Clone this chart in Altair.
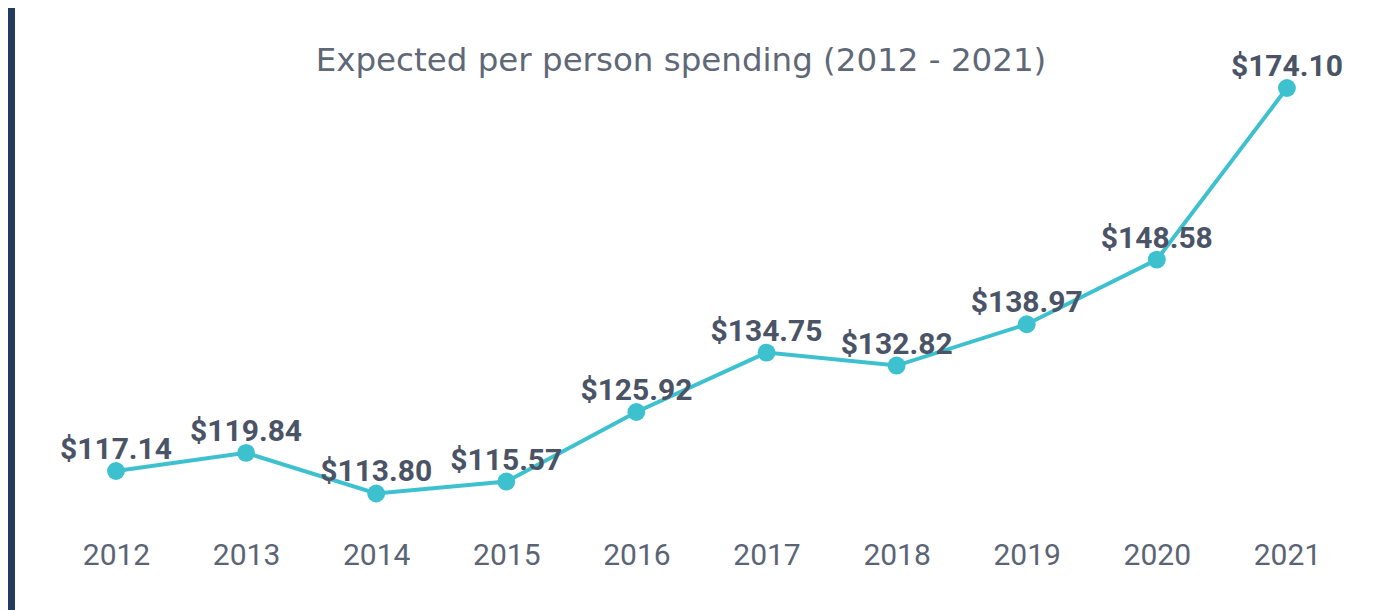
import altair as alt
import pandas as pd

years = [2012, 2013, 2014, 2015, 2016, 2017, 2018, 2019, 2020, 2021]
spending = [117.14, 119.84, 113.80, 115.57, 125.92, 134.75, 132.82, 138.97, 148.58, 174.10]
title_text = "Expected per person spending (2012 - 2021)"

W, H = 1370, 520
TOTAL_H = 602

df = pd.DataFrame({"year": years, "value": spending})
one = pd.DataFrame({"a": [0]})

x_enc = alt.X("year:Q",
              scale=alt.Scale(domain=[2011.170, 2021.700], nice=False, zero=False),
              axis=alt.Axis(values=years, format="d", title=None, domain=False,
                            ticks=False, tickSize=0, grid=False, labelFontSize=30,
                            labelFont="Roboto", labelColor="#5b6474",
                            labelBaseline="middle", labelPadding=27,
                            labelFlush=False, zindex=1))
y_enc = alt.Y("value:Q",
              scale=alt.Scale(domain=[108.663, 185.998], nice=False, zero=False),
              axis=None)

card = alt.Chart(one).mark_rect(color="white").encode(
    x=alt.value(7), x2=alt.value(W), y=alt.value(0), y2=alt.value(TOTAL_H))

base = alt.Chart(df).encode(x=x_enc, y=y_enc)

line = base.mark_line(color="#3ec1cf", strokeWidth=4)
points = base.mark_circle(color="#3ec1cf", size=320, opacity=1)
labels = base.mark_text(font="Roboto", fontWeight="bold", fontSize=30,
                        color="#4a5466", dy=-21, baseline="middle",
                        align="center").encode(
    text=alt.Text("value:Q", format="$.2f"))

title = alt.Chart(one).mark_text(text=title_text, font="DejaVu Sans", fontSize=32.5,
                                 color="#5f6877", align="center",
                                 baseline="middle").encode(
    x=alt.value(673), y=alt.value(53))

chart = alt.layer(card, line, points, labels, title).properties(
    width=W, height=H,
    background="#243a5e",
    padding={"left": 0, "top": 0, "right": 0, "bottom": TOTAL_H - H},
    autosize=alt.AutoSizeParams(type="none"),
).configure_view(strokeWidth=0)

chart.save("out.html", embed_options={"renderer": "svg", "actions": False})
